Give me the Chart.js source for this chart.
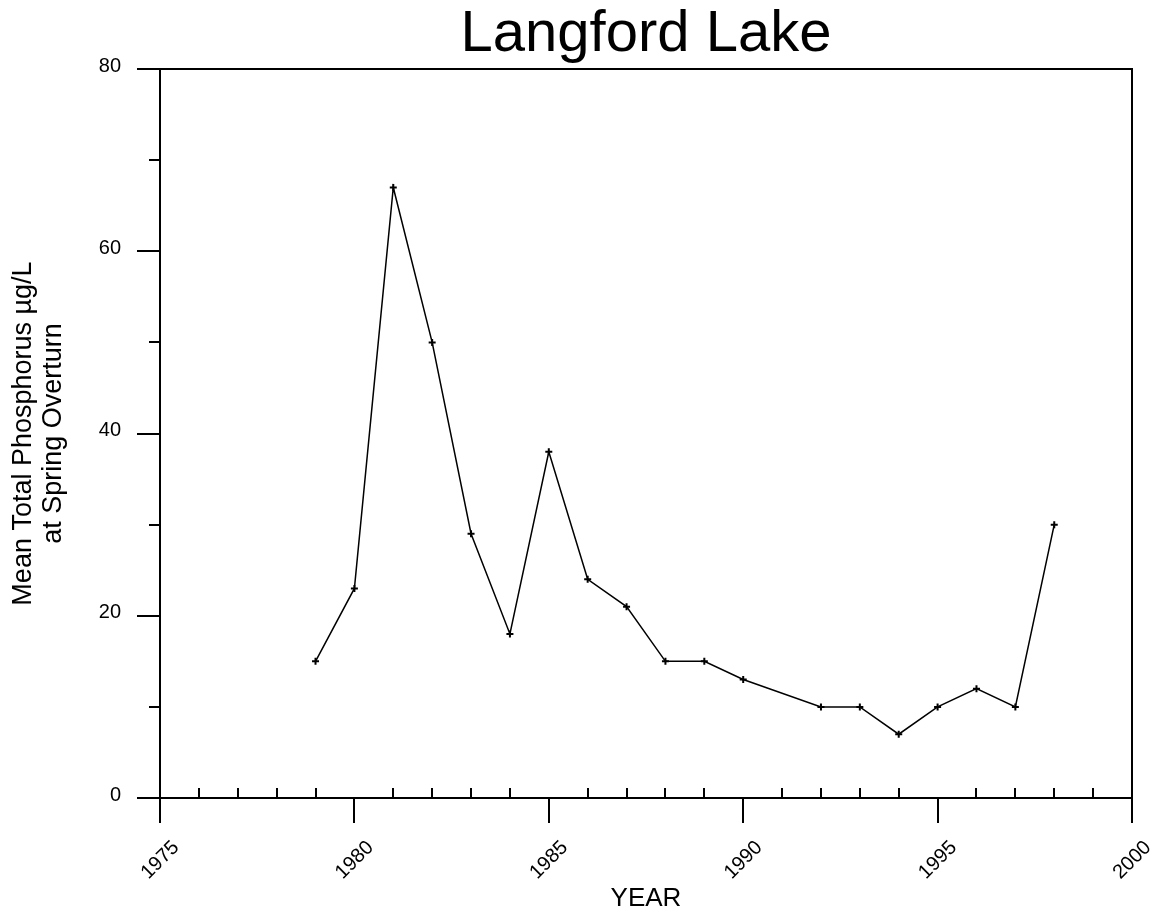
<!DOCTYPE html>
<html>
<head>
<meta charset="utf-8">
<title>Langford Lake</title>
<script src="https://cdn.jsdelivr.net/npm/chart.js@4/dist/chart.umd.min.js"></script>
<style>
  html, body { margin: 0; padding: 0; background: #fff; }
  canvas { display: block; }
</style>
</head>
<body>
<canvas id="lakeChart" width="1155" height="912"></canvas>
<script>
// data (no sample in 1991)
var years = [1979, 1980, 1981, 1982, 1983, 1984, 1985, 1986, 1987, 1988, 1989, 1990, 1992, 1993, 1994, 1995, 1996, 1997, 1998];
var phosphorus = [15, 23, 67, 50, 29, 18, 38, 24, 21, 15, 15, 13, 10, 10, 7, 10, 12, 10, 30];

var xMajorTicks = [1975, 1980, 1985, 1990, 1995, 2000];
var xMinorTicks = [1976, 1977, 1978, 1979, 1981, 1982, 1983, 1984, 1986, 1987, 1988, 1989,
                   1991, 1992, 1993, 1994, 1996, 1997, 1998, 1999];
var yMajorTicks = [0, 20, 40, 60, 80];
var yMinorTicks = [10, 30, 50, 70];

var fontFamily = '"Liberation Sans", Arial, Helvetica, sans-serif';

// tick marks + top/right frame, old plotting-package style
var tickMarks = {
    id: 'tickMarks',
    afterDraw: function (chart) {
        var ctx = chart.ctx;
        var area = chart.chartArea;
        var xs = chart.scales.x;
        var ys = chart.scales.y;
        ctx.save();
        ctx.strokeStyle = '#000';
        ctx.lineWidth = 2;
        ctx.beginPath();
        ctx.moveTo(area.left, area.top);
        ctx.lineTo(area.right, area.top);
        ctx.lineTo(area.right, area.bottom);
        xMajorTicks.forEach(function (v) {
            var px = Math.round(xs.getPixelForValue(v));
            ctx.moveTo(px, area.bottom);
            ctx.lineTo(px, area.bottom + 25);
        });
        xMinorTicks.forEach(function (v) {
            var px = Math.round(xs.getPixelForValue(v));
            ctx.moveTo(px, area.bottom);
            ctx.lineTo(px, area.bottom - 10);
        });
        yMajorTicks.forEach(function (v) {
            var py = Math.round(ys.getPixelForValue(v));
            ctx.moveTo(area.left, py);
            ctx.lineTo(area.left - 23, py);
        });
        yMinorTicks.forEach(function (v) {
            var py = Math.round(ys.getPixelForValue(v));
            ctx.moveTo(area.left, py);
            ctx.lineTo(area.left - 11, py);
        });
        ctx.stroke();
        ctx.restore();
    }
};

var points = years.map(function (yr, i) {
    return { x: yr, y: phosphorus[i] };
});

var ctx = document.getElementById('lakeChart').getContext('2d');
var myChart = new Chart(ctx, {
    type: 'line',
    data: {
        datasets: [{
            label: 'Mean Total Phosphorus',
            data: points,
            borderColor: '#000',
            borderWidth: 1.5,
            tension: 0,
            fill: false,
            pointStyle: 'cross',
            pointRadius: 3.5,
            pointBorderWidth: 2,
            pointBorderColor: '#000',
            pointBackgroundColor: '#000'
        }]
    },
    options: {
        responsive: false,
        animation: false,
        layout: {
            padding: { left: 0, right: 23, top: 0, bottom: 0 }
        },
        plugins: {
            legend: { display: false },
            tooltip: { enabled: false },
            title: {
                display: true,
                text: 'Langford Lake',
                fullSize: false,
                color: '#000',
                font: { family: fontFamily, size: 58, weight: 'normal', lineHeight: 1 },
                padding: { top: 6, bottom: 5 }
            }
        },
        scales: {
            x: {
                type: 'linear',
                min: 1975,
                max: 2000,
                afterBuildTicks: function (scale) {
                    scale.ticks = xMajorTicks.map(function (v) { return { value: v }; });
                },
                afterFit: function (scale) {
                    scale.height = 114;
                    scale.paddingLeft = 0;
                    scale.paddingRight = 0;
                },
                grid: { display: false, drawTicks: false },
                border: { display: true, color: '#000', width: 2 },
                ticks: {
                    autoSkip: false,
                    minRotation: 45,
                    maxRotation: 45,
                    padding: 38,
                    labelOffset: 16,
                    color: '#000',
                    font: { family: fontFamily, size: 20 },
                    callback: function (v) { return String(v); }
                },
                title: {
                    display: true,
                    text: 'YEAR',
                    color: '#000',
                    font: { family: fontFamily, size: 26, lineHeight: 1 },
                    padding: { top: 0, bottom: 0 }
                }
            },
            y: {
                min: 0,
                max: 80,
                afterBuildTicks: function (scale) {
                    scale.ticks = yMajorTicks.map(function (v) { return { value: v }; });
                },
                afterFit: function (scale) {
                    scale.width = 160;
                },
                grid: { display: false, drawTicks: false },
                border: { display: true, color: '#000', width: 2 },
                ticks: {
                    padding: 39,
                    labelOffset: -3,
                    color: '#000',
                    font: { family: fontFamily, size: 20 }
                },
                title: {
                    display: true,
                    text: ['Mean Total Phosphorus \u00b5g/L', 'at Spring Overturn'],
                    color: '#000',
                    font: { family: fontFamily, size: 27, lineHeight: 1.12 },
                    padding: { top: 8, bottom: 0 }
                }
            }
        }
    },
    plugins: [tickMarks]
});
</script>
</body>
</html>
